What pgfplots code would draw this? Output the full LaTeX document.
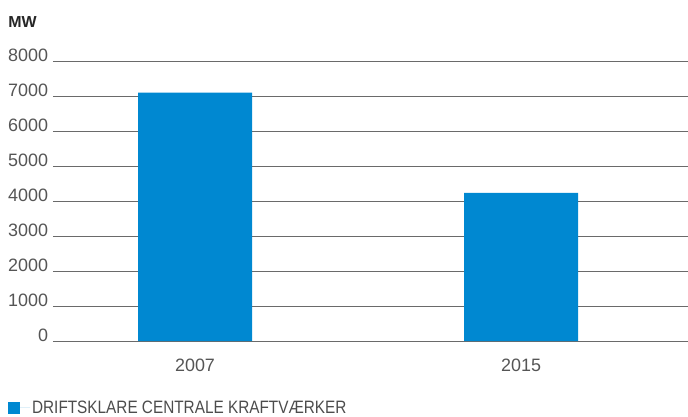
\documentclass[border=0pt]{standalone}
\usepackage{pgfplots}
\pgfplotsset{compat=1.18}
\usepackage{fontspec}
\setmainfont{Liberation Sans}
\newfontfamily\narrowfont[FakeStretch=0.855]{Liberation Sans}
\definecolor{barblue}{HTML}{0088D1}
\definecolor{tickgray}{HTML}{555555}
\definecolor{gridgray}{HTML}{6A6A6A}
\begin{document}
\begin{tikzpicture}
\begin{axis}[
  at={(53bp,76bp)}, anchor=south west,
  width=635bp, height=280bp, scale only axis,
  xmin=-0.4356, xmax=1.512, ymin=0, ymax=8000,
  axis line style={draw=none},
  ytick={0,1000,2000,3000,4000,5000,6000,7000,8000},
  yticklabels={0,1000,2000,3000,4000,5000,6000,7000,8000},
  ymajorgrids, grid style={gridgray, line width=1bp},
  xtick={0,1}, xticklabels={2007,2015},
  major tick length=0pt,
  ybar, bar width=114bp,
  tick label style={font=\fontsize{18}{18}\selectfont, text=tickgray},
  yticklabel style={anchor=base east, inner sep=0pt, xshift=-4.7bp},
  xticklabel style={anchor=base, inner sep=0pt, yshift=-30bp},
  legend style={at={(rel axis cs:-0.071,-0.239)}, anchor=west, draw=none, fill=none,
    font=\narrowfont\fontsize{18}{18}\selectfont, text=tickgray!90!black,
    inner sep=0pt, column sep=0pt},
  legend image code/.code={\fill[barblue] (0bp,-6bp) rectangle (12bp,6bp); \path (0bp,0bp) -- (22bp,0bp);},
  clip=false,
]
\addplot[fill=barblue, draw=none] coordinates {(0,7100) (1,4230)};
\addlegendentry{DRIFTSKLARE CENTRALE KRAFTVÆRKER}
\node[anchor=base west, inner sep=0pt, font=\bfseries\fontsize{16}{16}\selectfont, text=black!85]
  at (rel axis cs:-0.0705,1.121) {MW};
\end{axis}
\pgfresetboundingbox
\path[use as bounding box] (0,0) rectangle (688bp,417bp);
\end{tikzpicture}
\end{document}
